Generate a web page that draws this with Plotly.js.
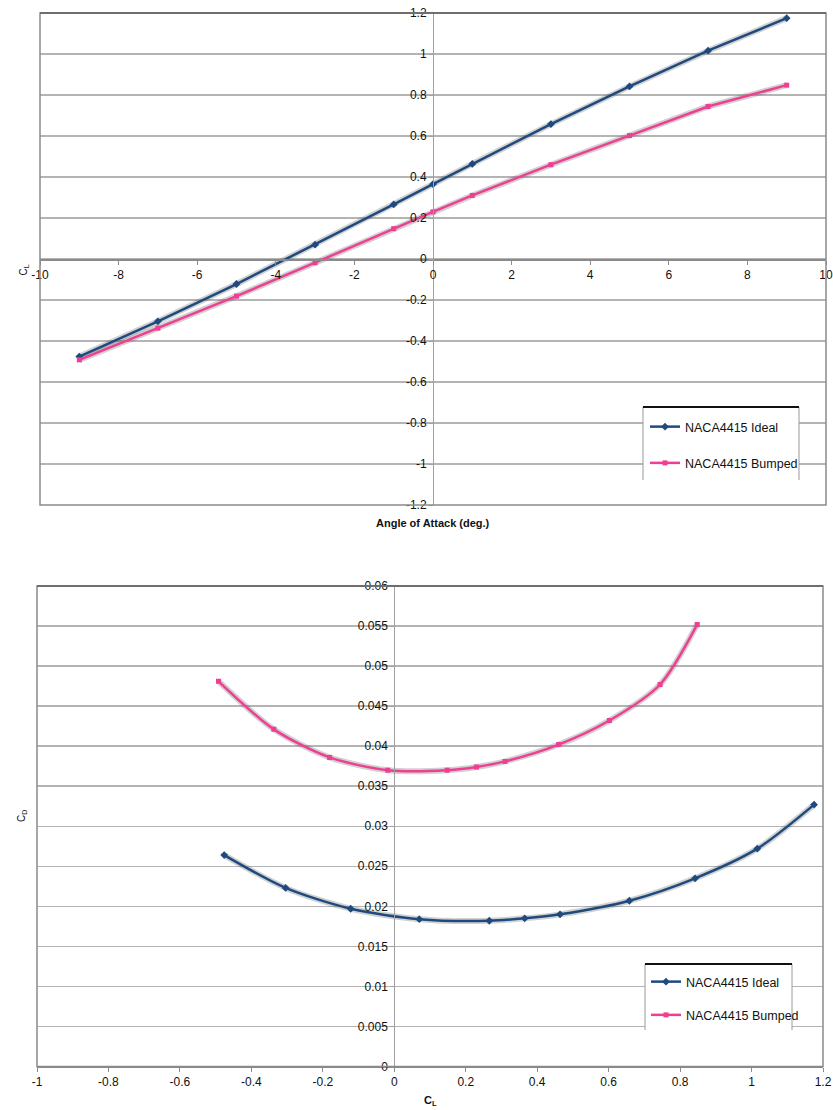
<!DOCTYPE html>
<html>
<head>
<meta charset="utf-8">
<script src="https://cdn.plot.ly/plotly-3.0.1.min.js"></script>
<style>
html,body{margin:0;padding:0;background:#fff;}
#chart{width:833px;height:1110px;}
</style>
</head>
<body>
<div id="chart"></div>
<script>
// ---- data ----
const alpha    = [-9, -7, -5, -3, -1, 0, 1, 3, 5, 7, 9];
const clIdeal  = [-0.476, -0.304, -0.122, 0.070, 0.266, 0.365, 0.464, 0.658, 0.842, 1.016, 1.175];
const clBumped = [-0.492, -0.337, -0.181, -0.018, 0.148, 0.230, 0.310, 0.460, 0.602, 0.744, 0.848];
const cdIdeal  = [0.0264, 0.0223, 0.0197, 0.0184, 0.0182, 0.0185, 0.0190, 0.0207, 0.0235, 0.0272, 0.0327];
const cdBumped = [0.0481, 0.0421, 0.0386, 0.0370, 0.0370, 0.0374, 0.0381, 0.0402, 0.0432, 0.0477, 0.0552];

const seriesNames = ["NACA4415 Ideal", "NACA4415 Bumped"];

const topXTickVals = [-10, -8, -6, -4, -2, 0, 2, 4, 6, 8, 10];
const topXTickText = ["-10", "-8", "-6", "-4", "-2", "0", "2", "4", "6", "8", "10"];
const topYTickVals = [-1.2, -1, -0.8, -0.6, -0.4, -0.2, 0, 0.2, 0.4, 0.6, 0.8, 1, 1.2];
const topYTickText = ["-1.2", "-1", "-0.8", "-0.6", "-0.4", "-0.2", "0", "0.2", "0.4", "0.6", "0.8", "1", "1.2"];
const botXTickVals = [-1, -0.8, -0.6, -0.4, -0.2, 0, 0.2, 0.4, 0.6, 0.8, 1, 1.2];
const botXTickText = ["-1", "-0.8", "-0.6", "-0.4", "-0.2", "0", "0.2", "0.4", "0.6", "0.8", "1", "1.2"];
const botYTickVals = [0, 0.005, 0.01, 0.015, 0.02, 0.025, 0.03, 0.035, 0.04, 0.045, 0.05, 0.055, 0.06];
const botYTickText = ["0", "0.005", "0.01", "0.015", "0.02", "0.025", "0.03", "0.035", "0.04", "0.045", "0.05", "0.055", "0.06"];

// ---- layout helpers (pixels -> paper) ----
const W = 833, H = 1110;
const px = v => v / W;
const py = v => 1 - v / H;

const FONT = "'Liberation Sans', Arial, Helvetica, sans-serif";
const NAVY = "#1f4a7e";
const PINK = "#ee3f92";
const SHADOW = "rgba(90,90,90,0.28)";

// plot areas in pixels
const topBox = {l: 40, r: 826, t: 13, b: 505};
const botBox = {l: 37, r: 823, t: 586, b: 1066.5};

const topXD = [px(topBox.l), px(topBox.r)];
const topYD = [py(topBox.b), py(topBox.t)];
const botXD = [px(botBox.l), px(botBox.r)];
const botYD = [py(botBox.b), py(botBox.t)];

const topXR = [-10, 10], topYR = [-1.2, 1.2];
const botXR = [-1, 1.2], botYR = [0, 0.06];

function posOf(val, range, dom) {
  return dom[0] + (val - range[0]) / (range[1] - range[0]) * (dom[1] - dom[0]);
}

function shadowTrace(x, y, xa, ya, shape) {
  return {x: x, y: y, xaxis: xa, yaxis: ya, type: 'scatter', mode: 'lines',
    line: {color: SHADOW, width: 6, shape: shape, smoothing: 0.8},
    showlegend: false, hoverinfo: 'skip'};
}

const traces = [
  shadowTrace(alpha, clIdeal, 'x', 'y', 'linear'),
  shadowTrace(alpha, clBumped, 'x', 'y', 'linear'),
  {x: alpha, y: clIdeal, xaxis: 'x', yaxis: 'y', type: 'scatter', mode: 'lines+markers',
   name: seriesNames[0], legend: 'legend', legendgroup: 'a',
   line: {color: NAVY, width: 2.5}, marker: {symbol: 'diamond', size: 6, color: NAVY}},
  {x: alpha, y: clBumped, xaxis: 'x', yaxis: 'y', type: 'scatter', mode: 'lines+markers',
   name: seriesNames[1], legend: 'legend', legendgroup: 'b',
   line: {color: PINK, width: 2.5}, marker: {symbol: 'square', size: 5, color: PINK}},

  shadowTrace(clIdeal, cdIdeal, 'x2', 'y2', 'spline'),
  shadowTrace(clBumped, cdBumped, 'x2', 'y2', 'spline'),
  {x: clIdeal, y: cdIdeal, xaxis: 'x2', yaxis: 'y2', type: 'scatter', mode: 'lines+markers',
   name: seriesNames[0], legend: 'legend2', legendgroup: 'c',
   line: {color: NAVY, width: 2.5, shape: 'spline', smoothing: 0.8}, marker: {symbol: 'diamond', size: 6, color: NAVY}},
  {x: clBumped, y: cdBumped, xaxis: 'x2', yaxis: 'y2', type: 'scatter', mode: 'lines+markers',
   name: seriesNames[1], legend: 'legend2', legendgroup: 'd',
   line: {color: PINK, width: 2.5, shape: 'spline', smoothing: 0.8}, marker: {symbol: 'square', size: 5, color: PINK}}
];

const tickFont = {family: FONT, size: 12, color: '#111'};

function frameShapes(xref, yref) {
  return [
    {type: 'rect', xref: xref, yref: yref, x0: 0, x1: 1, y0: 0, y1: 1,
     line: {color: '#8a8a8a', width: 1.5}, layer: 'above'},
    {type: 'line', xref: xref, yref: yref, x0: 0, x1: 1, y0: 1, y1: 1,
     line: {color: '#6e6e6e', width: 2}, layer: 'above'}
  ];
}

function legendBox(xref, yref, x0, x1, y0, y1) {
  return [
    {type: 'rect', xref: xref, yref: yref, x0: x0, x1: x1, y0: y0, y1: y1,
     line: {width: 0}, fillcolor: '#ffffff', layer: 'above'},
    {type: 'line', xref: xref, yref: yref, x0: x0, x1: x0, y0: y0, y1: y1,
     line: {color: '#9a9a9a', width: 1}, layer: 'above'},
    {type: 'line', xref: xref, yref: yref, x0: x1, x1: x1, y0: y0, y1: y1,
     line: {color: '#9a9a9a', width: 1}, layer: 'above'},
    {type: 'line', xref: xref, yref: yref, x0: x0, x1: x1, y0: y1, y1: y1,
     line: {color: '#111', width: 2}, layer: 'above'}
  ];
}

const layout = {
  width: W, height: H,
  margin: {l: 0, r: 0, t: 0, b: 0},
  paper_bgcolor: '#fff', plot_bgcolor: 'rgba(0,0,0,0)',
  font: {family: FONT, size: 12, color: '#111'},
  showlegend: true,
  xaxis: {domain: topXD, range: topXR, anchor: 'free',
    position: posOf(0, topYR, topYD),
    tickmode: 'array', tickvals: topXTickVals, ticktext: topXTickText,
    showgrid: false, zeroline: false, showline: true, linecolor: '#8a8a8a', linewidth: 1.5,
    ticks: 'outside', ticklen: 4, tickcolor: '#8a8a8a', tickfont: tickFont, automargin: false},
  yaxis: {domain: topYD, range: topYR, anchor: 'free',
    position: posOf(0, topXR, topXD),
    tickmode: 'array', tickvals: topYTickVals, ticktext: topYTickText,
    showgrid: true, gridcolor: '#b4b4b4', gridwidth: 1.5, zeroline: false,
    showline: true, linecolor: '#a0a0a0', linewidth: 1,
    ticks: 'outside', ticklen: 4, tickcolor: '#a0a0a0', tickfont: tickFont, automargin: false},
  xaxis2: {domain: botXD, range: botXR, anchor: 'y2',
    tickmode: 'array', tickvals: botXTickVals, ticktext: botXTickText,
    showgrid: false, zeroline: false, showline: true, linecolor: '#8a8a8a', linewidth: 1.5,
    ticks: 'outside', ticklen: 4, tickcolor: '#8a8a8a', tickfont: tickFont, automargin: false},
  yaxis2: {domain: botYD, range: botYR, anchor: 'free',
    position: posOf(0, botXR, botXD),
    tickmode: 'array', tickvals: botYTickVals, ticktext: botYTickText,
    showgrid: true, gridcolor: '#b4b4b4', gridwidth: 1.5, zeroline: false,
    showline: true, linecolor: '#a0a0a0', linewidth: 1,
    ticks: 'outside', ticklen: 4, tickcolor: '#a0a0a0', tickfont: tickFont, automargin: false},
  legend: {x: px(645), y: py(412), xanchor: 'left', yanchor: 'top',
    bgcolor: 'rgba(0,0,0,0)', borderwidth: 0, tracegroupgap: 17,
    font: {family: FONT, size: 12.5, color: '#111'}, itemwidth: 30},
  legend2: {x: px(646), y: py(967), xanchor: 'left', yanchor: 'top',
    bgcolor: 'rgba(0,0,0,0)', borderwidth: 0, tracegroupgap: 14,
    font: {family: FONT, size: 12.5, color: '#111'}, itemwidth: 30},
  shapes: [].concat(
    frameShapes('x domain', 'y domain'),
    frameShapes('x2 domain', 'y2 domain'),
    legendBox('paper', 'paper', px(643), px(799), py(480), py(407)),
    legendBox('paper', 'paper', px(645), px(792), py(1030), py(964))
  ),
  annotations: [
    {text: '<b>Angle of Attack (deg.)</b>', xref: 'paper', yref: 'paper',
     x: px(433), y: py(523), showarrow: false, font: {family: FONT, size: 11, color: '#111'}},
    {text: 'C<sub>L</sub>', xref: 'paper', yref: 'paper', textangle: -90,
     x: px(15), y: py(263), showarrow: false, font: {family: FONT, size: 10, color: '#111'}},
    {text: 'C<sub>D</sub>', xref: 'paper', yref: 'paper', textangle: -90,
     x: px(14), y: py(824), showarrow: false, font: {family: FONT, size: 10, color: '#111'}},
    {text: '<b>C<sub>L</sub></b>', xref: 'paper', yref: 'paper', yanchor: 'bottom',
     x: px(430), y: py(1110), showarrow: false, font: {family: FONT, size: 11, color: '#111'}}
  ]
};

Plotly.newPlot('chart', traces, layout, {staticPlot: true, displayModeBar: false});
</script>
</body>
</html>
